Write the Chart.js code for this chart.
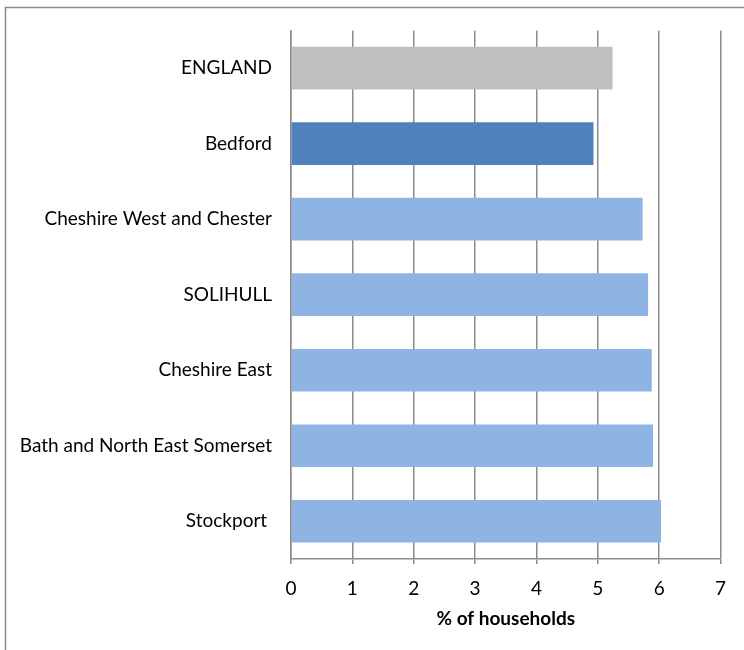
<!DOCTYPE html>
<html>
<head>
<meta charset="utf-8">
<script src="https://cdn.jsdelivr.net/npm/chart.js@4"></script>
<style>
  html, body { margin: 0; padding: 0; background: #fff; overflow: hidden; }
  canvas { display: block; }
</style>
</head>
<body>
<canvas id="chart" width="744" height="650"></canvas>
<script>
const areas = ['ENGLAND', 'Bedford', 'Cheshire West and Chester', 'SOLIHULL', 'Cheshire East', 'Bath and North East Somerset', 'Stockport '];
const pctHouseholds = [5.24, 4.93, 5.73, 5.82, 5.88, 5.90, 6.03];
const barColours = ['#bfbfbf', '#4f81bd', '#8eb4e3', '#8eb4e3', '#8eb4e3', '#8eb4e3', '#8eb4e3'];
const xTicks = [0, 1, 2, 3, 4, 5, 6, 7];

const labelFont = { family: 'Lato', size: 19 };

// outer chart frame, open on the right and bottom like the cropped original
const framePlugin = {
  id: 'frame',
  beforeDraw(chart) {
    const c = chart.ctx;
    c.save();
    c.strokeStyle = '#8c8c8c';
    c.lineWidth = 1.5;
    c.beginPath();
    c.moveTo(744, 7.5);
    c.lineTo(5.5, 7.5);
    c.lineTo(5.5, 650);
    c.stroke();
    c.restore();
  }
};

const ctx = document.getElementById('chart').getContext('2d');
const chart = new Chart(ctx, {
  type: 'bar',
  data: {
    labels: areas,
    datasets: [{
      label: '% of households',
      data: pctHouseholds,
      backgroundColor: barColours,
      borderWidth: 0,
      barPercentage: 1,
      categoryPercentage: 0.565
    }]
  },
  plugins: [framePlugin],
  options: {
    indexAxis: 'y',
    responsive: false,
    animation: false,
    layout: { padding: { top: 29, right: 23.5, bottom: 20, left: 0 } },
    plugins: {
      legend: { display: false },
      tooltip: { enabled: false }
    },
    scales: {
      x: {
        min: 0,
        max: 7,
        afterBuildTicks: scale => { scale.ticks = xTicks.map(v => ({ value: v })); },
        afterFit: scale => { scale.height = 71; },
        grid: { color: '#8c8c8c', lineWidth: 1.5, tickLength: 5, drawTicks: true },
        border: { color: '#8c8c8c', width: 1.5 },
        ticks: { color: '#000', font: labelFont, padding: 13, maxRotation: 0 },
        title: {
          display: true,
          text: '% of households',
          color: '#000',
          font: { family: 'Lato', size: 19, weight: 'bold' },
          padding: { top: 0, bottom: 0 }
        }
      },
      y: {
        afterFit: scale => { scale.width = 291; },
        grid: { display: false, drawTicks: false },
        border: { color: '#8c8c8c', width: 1.5 },
        ticks: { color: '#000', font: labelFont, padding: 19 }
      }
    }
  }
});
</script>
</body>
</html>
